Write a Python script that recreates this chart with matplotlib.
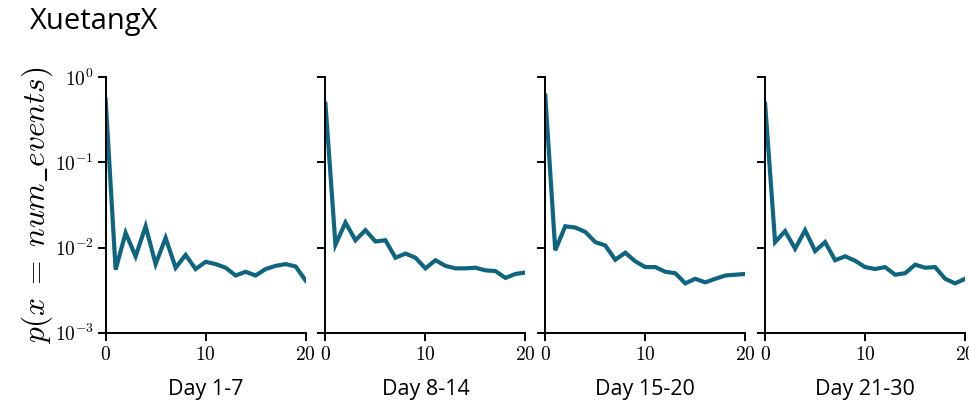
import math
import matplotlib
matplotlib.use("Agg")
import matplotlib.pyplot as plt
from matplotlib.ticker import FixedLocator, FuncFormatter, NullLocator

plt.rcParams['mathtext.fontset'] = 'cm'

x = list(range(21))
periods = ["Day 1-7", "Day 8-14", "Day 15-20", "Day 21-30"]
day_1_7 = [0.55, 0.0055, 0.0149, 0.0079, 0.0178, 0.0064, 0.0130, 0.0058, 0.0082, 0.0056,
           0.0068, 0.0064, 0.0058, 0.0047, 0.0052, 0.0047, 0.0056, 0.0061, 0.0064, 0.0060, 0.0041]
day_8_14 = [0.49, 0.0108, 0.0197, 0.0122, 0.0160, 0.0118, 0.0122, 0.0076, 0.0085, 0.0076,
            0.0057, 0.0071, 0.0061, 0.0057, 0.0057, 0.0058, 0.0054, 0.0053, 0.0044, 0.0049, 0.0051]
day_15_20 = [0.61, 0.0093, 0.0178, 0.0172, 0.0153, 0.0116, 0.0106, 0.0072, 0.0087, 0.0069,
             0.0059, 0.0059, 0.0052, 0.0050, 0.0038, 0.0043, 0.0039, 0.0043, 0.0047, 0.0048, 0.0049]
day_21_30 = [0.49, 0.0116, 0.0156, 0.0097, 0.0160, 0.0091, 0.0116, 0.0071, 0.0079, 0.0070,
             0.0059, 0.0056, 0.0059, 0.0048, 0.0050, 0.0063, 0.0058, 0.0059, 0.0043, 0.0038, 0.0043]
series = [day_1_7, day_8_14, day_15_20, day_21_30]
x_ticks = [0, 10, 20]
y_ticks = [1e-3, 1e-2, 1e-1, 1e0]

fig, axes = plt.subplots(1, 4, figsize=(9.69, 4.05), dpi=100, sharey=True)
fig.subplots_adjust(left=0.109, right=0.996, bottom=0.1785, top=0.809, wspace=0.099)

color = '#0f6580'
for i, (ax, vals, lab) in enumerate(zip(axes, series, periods)):
    ax.plot(x, vals, color=color, lw=3.0, solid_joinstyle='miter')
    ax.set_yscale('log')
    ax.set_ylim(1e-3, 1e0)
    ax.set_xlim(0, 20)
    ax.xaxis.set_major_locator(FixedLocator(x_ticks))
    ax.xaxis.set_major_formatter(FuncFormatter(lambda v, p: r'$%d$' % v))
    ax.yaxis.set_major_locator(FixedLocator(y_ticks))
    ax.yaxis.set_minor_locator(NullLocator())
    ax.yaxis.set_major_formatter(FuncFormatter(lambda v, p: r'$10^{%d}$' % round(math.log10(v))))
    for s in ['top', 'right']:
        ax.spines[s].set_visible(False)
    for s in ['left', 'bottom']:
        ax.spines[s].set_linewidth(1.4)
    ax.tick_params(axis='both', which='major', length=5.5, width=1.4, labelsize=14, pad=3)
    ax.set_xlabel(lab, fontfamily='Open Sans', fontsize=15.5, labelpad=11)
    if i > 0:
        ax.tick_params(axis='y', labelleft=False)

axes[0].set_ylabel(r'$p(x\;=\;num\_events)$', fontsize=22.5, labelpad=0)
fig.text(30 / 969, 1 - 29 / 405, 'XuetangX', fontfamily='Open Sans', fontsize=21, va='baseline', ha='left')

fig.savefig('out.png', dpi=100)
